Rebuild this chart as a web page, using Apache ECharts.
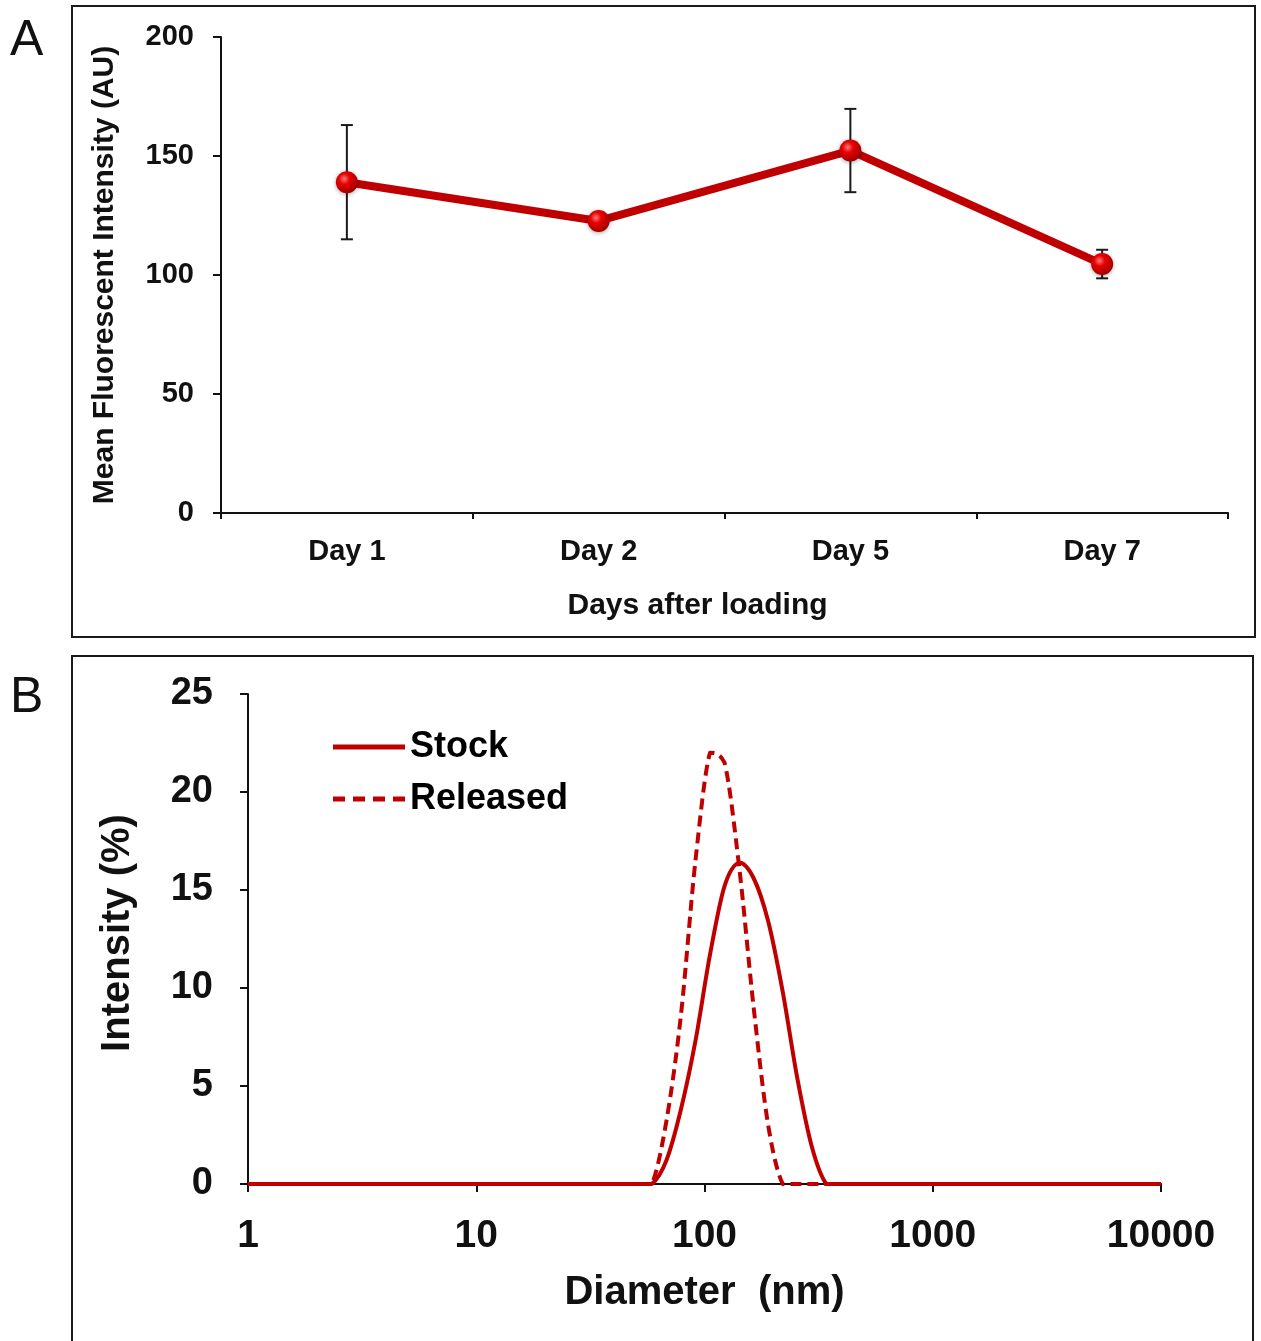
<!DOCTYPE html>
<html>
<head>
<meta charset="utf-8">
<script src="https://cdn.jsdelivr.net/npm/echarts@6/dist/echarts.min.js"></script>
<style>
html,body{margin:0;padding:0;background:#fff;}
#c{width:1261px;height:1341px;}
</style>
</head>
<body>
<div id="c"></div>
<script>
// Panel A data
const days = ['Day 1', 'Day 2', 'Day 5', 'Day 7'];
const meanIntensity = [139, 122.7, 152.3, 104.6];
const errIntensity = [24, 2, 17.5, 6];
const yTicksA = [0, 50, 100, 150, 200];

// Panel B data (DLS size distribution)
const diameters = [1, 50.75, 58.77, 68.06, 78.82, 91.28, 105.7, 122.4, 141.8, 164.2, 190.1, 220.2, 255.0, 295.3, 342.0, 396.1, 10000];
const stockIntensity = [0, 0, 0, 1.2, 3.8, 7.3, 11.7, 15.2, 16.4, 15.6, 13.4, 9.8, 5.4, 1.9, 0, 0, 0];
const releasedIntensity = [0, 0, 0, 3.2, 8.6, 16.5, 22.0, 21.5, 16.2, 9.0, 3.0, 0, 0, 0, 0, 0, 0];
const yTicksB = [0, 5, 10, 15, 20, 25];

const RED = '#C00000';
const FONT = '"Liberation Sans", Arial, sans-serif';

const chart = echarts.init(document.getElementById('c'), null, {renderer: 'canvas'});

const errData = days.map((d, i) => [i, meanIntensity[i] - errIntensity[i], meanIntensity[i] + errIntensity[i]]);

function clamp(v, a, b) { return Math.max(Math.min(a, b), Math.min(Math.max(a, b), v)); }

// smoothed curve through the data points, positioned with the axis scales (api.coord)
function smoothPath(api, xs, ys) {
  const p = xs.map((x, i) => api.coord([x, ys[i]]));
  const n = p.length;
  let d = 'M' + p[0][0].toFixed(2) + ' ' + p[0][1].toFixed(2);
  const t = 1 / 6;
  for (let i = 0; i < n - 1; i++) {
    const p0 = p[Math.max(0, i - 1)], p1 = p[i], p2 = p[i + 1], p3 = p[Math.min(n - 1, i + 2)];
    let c1x = p1[0] + (p2[0] - p0[0]) * t, c1y = p1[1] + (p2[1] - p0[1]) * t;
    let c2x = p2[0] - (p3[0] - p1[0]) * t, c2y = p2[1] - (p3[1] - p1[1]) * t;
    c1x = clamp(c1x, p1[0], p2[0]); c2x = clamp(c2x, p1[0], p2[0]);
    c1y = clamp(c1y, p1[1], p2[1]); c2y = clamp(c2y, p1[1], p2[1]);
    d += ' C' + c1x.toFixed(2) + ' ' + c1y.toFixed(2) + ' ' + c2x.toFixed(2) + ' ' + c2y.toFixed(2) + ' ' + p2[0].toFixed(2) + ' ' + p2[1].toFixed(2);
  }
  return d;
}

function curveSeries(name, ys, dash, z) {
  return {
    name: name, type: 'custom', xAxisIndex: 1, yAxisIndex: 1, z: z,
    data: diameters.map((d, i) => [d, ys[i]]),
    encode: {x: 0, y: 1},
    itemStyle: {color: RED},
    renderItem: function (params, api) {
      if (params.dataIndex !== 0) return null;
      return {
        type: 'path',
        shape: {pathData: smoothPath(api, diameters, ys)},
        style: {fill: null, stroke: RED, lineWidth: 4, lineDash: dash, lineJoin: 'round'}
      };
    }
  };
}

const solidIcon = 'path://M0 0H72V5H0Z';
const dashIcon = 'path://M0 0H12V5H0Z M20 0H32V5H20Z M40 0H52V5H40Z M60 0H72V5H60Z';

const option = {
  animation: false,
  backgroundColor: '#fff',
  textStyle: {fontFamily: FONT},
  graphic: [
    {type: 'rect', shape: {x: 72, y: 6, width: 1183, height: 631}, style: {fill: 'none', stroke: '#1a1a1a', lineWidth: 2}},
    {type: 'rect', shape: {x: 72, y: 656, width: 1181, height: 720}, style: {fill: 'none', stroke: '#1a1a1a', lineWidth: 2}},
    {type: 'text', x: 10, y: 41, style: {text: 'A', font: '50px ' + FONT, fill: '#111', textVerticalAlign: 'middle'}},
    {type: 'text', x: 10, y: 698, style: {text: 'B', font: '50px ' + FONT, fill: '#111', textVerticalAlign: 'middle'}}
  ],
  grid: [
    {left: 221, top: 37, width: 1007, height: 476},
    {left: 248, top: 694, width: 913, height: 490}
  ],
  legend: {
    data: [{name: 'Stock', icon: solidIcon}, {name: 'Released', icon: dashIcon}],
    orient: 'vertical',
    left: 328,
    top: 724,
    itemWidth: 72,
    itemHeight: 5,
    itemGap: 16,
    itemStyle: {color: RED},
    textStyle: {fontFamily: FONT, fontWeight: 'bold', fontSize: 36, color: '#000'}
  },
  xAxis: [
    {
      gridIndex: 0, type: 'category', data: days, boundaryGap: true,
      axisLine: {lineStyle: {color: '#111', width: 2}},
      axisTick: {show: true, length: 6, lineStyle: {color: '#111', width: 2}},
      axisLabel: {fontFamily: FONT, fontWeight: 'bold', fontSize: 29, color: '#111', margin: 24},
      name: 'Days after loading', nameLocation: 'middle', nameGap: 78,
      nameTextStyle: {fontFamily: FONT, fontWeight: 'bold', fontSize: 30, color: '#111', padding: [0, 54, 0, 0]}
    },
    {
      gridIndex: 1, type: 'log', logBase: 10, min: 1, max: 10000,
      axisLine: {lineStyle: {color: '#111', width: 2}},
      axisTick: {show: true, length: 8, lineStyle: {color: '#111', width: 2}},
      minorTick: {show: false},
      splitLine: {show: false},
      axisLabel: {fontFamily: FONT, fontWeight: 'bold', fontSize: 39, color: '#111', margin: 33,
        formatter: function (v) { return String(Math.round(v)); }},
      name: 'Diameter  (nm)', nameLocation: 'middle', nameGap: 89,
      nameTextStyle: {fontFamily: FONT, fontWeight: 'bold', fontSize: 40, color: '#111'}
    }
  ],
  yAxis: [
    {
      gridIndex: 0, type: 'value', min: yTicksA[0], max: yTicksA[yTicksA.length - 1], interval: 50,
      axisLine: {show: true, lineStyle: {color: '#111', width: 2}},
      axisTick: {show: true, length: 8, lineStyle: {color: '#111', width: 2}},
      splitLine: {show: false},
      axisLabel: {fontFamily: FONT, fontWeight: 'bold', fontSize: 29, color: '#111', margin: 27},
      name: 'Mean Fluorescent Intensity (AU)', nameLocation: 'middle', nameGap: 101,
      nameTextStyle: {fontFamily: FONT, fontWeight: 'bold', fontSize: 30, color: '#111'}
    },
    {
      gridIndex: 1, type: 'value', min: yTicksB[0], max: yTicksB[yTicksB.length - 1], interval: 5,
      axisLine: {show: true, lineStyle: {color: '#111', width: 2}},
      axisTick: {show: true, length: 8, lineStyle: {color: '#111', width: 2}},
      splitLine: {show: false},
      axisLabel: {fontFamily: FONT, fontWeight: 'bold', fontSize: 38, color: '#111', margin: 35},
      name: 'Intensity (%)', nameLocation: 'middle', nameGap: 110,
      nameTextStyle: {fontFamily: FONT, fontWeight: 'bold', fontSize: 40, color: '#111', padding: [0, 0, 0, 12]}
    }
  ],
  series: [
    {
      type: 'custom', xAxisIndex: 0, yAxisIndex: 0, z: 1,
      data: errData,
      encode: {x: 0, y: [1, 2]},
      renderItem: function (params, api) {
        const x = api.value(0);
        const lo = api.coord([x, api.value(1)]);
        const hi = api.coord([x, api.value(2)]);
        const w = 6;
        const st = {stroke: '#1a1a1a', lineWidth: 2};
        return {
          type: 'group',
          children: [
            {type: 'line', shape: {x1: lo[0], y1: lo[1], x2: hi[0], y2: hi[1]}, style: st},
            {type: 'line', shape: {x1: lo[0] - w, y1: lo[1], x2: lo[0] + w, y2: lo[1]}, style: st},
            {type: 'line', shape: {x1: hi[0] - w, y1: hi[1], x2: hi[0] + w, y2: hi[1]}, style: st}
          ]
        };
      }
    },
    {
      name: 'Mean', type: 'line', xAxisIndex: 0, yAxisIndex: 0, z: 3,
      data: meanIntensity,
      lineStyle: {color: RED, width: 8},
      symbol: 'circle', symbolSize: 22,
      itemStyle: {
        color: new echarts.graphic.RadialGradient(0.38, 0.35, 0.7, [
          {offset: 0, color: '#ff7a7a'},
          {offset: 0.35, color: '#e80000'},
          {offset: 1, color: '#9a0000'}
        ]),
        shadowBlur: 4, shadowColor: 'rgba(0,0,0,0.35)', shadowOffsetY: 1
      }
    },
    curveSeries('Released', releasedIntensity, [11, 6], 3),
    curveSeries('Stock', stockIntensity, null, 4)
  ]
};
chart.setOption(option);
</script>
</body>
</html>
